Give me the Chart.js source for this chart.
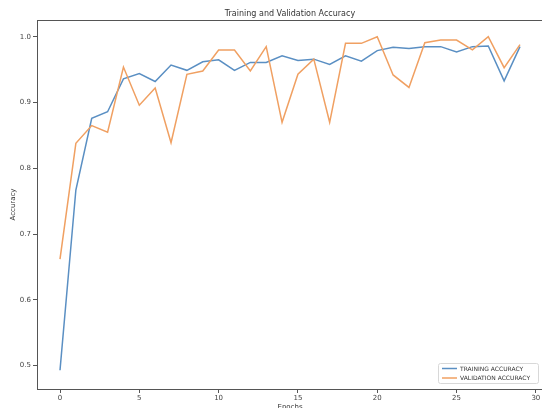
<!DOCTYPE html>
<html><head><meta charset="utf-8">
<script src="https://cdn.jsdelivr.net/npm/chart.js@4.4.1/dist/chart.umd.min.js"></script>
<style>html,body{margin:0;padding:0;overflow:hidden;background:#fff;width:542px;height:408px}canvas{display:block}</style>
</head><body><canvas id="c" width="560" height="411"></canvas>
<script>
const epochs = [0,1,2,3,4,5,6,7,8,9,10,11,12,13,14,15,16,17,18,19,20,21,22,23,24,25,26,27,28,29];
const trainingAccuracy = [0.493,0.767,0.876,0.886,0.936,0.944,0.932,0.957,0.949,0.962,0.965,0.949,0.961,0.961,0.971,0.964,0.966,0.958,0.971,0.963,0.979,0.984,0.982,0.985,0.985,0.977,0.985,0.986,0.933,0.985];
const validationAccuracy = [0.662,0.838,0.865,0.855,0.954,0.896,0.922,0.839,0.943,0.948,0.980,0.980,0.948,0.985,0.870,0.943,0.966,0.870,0.990,0.990,1.000,0.942,0.923,0.991,0.995,0.995,0.980,1.000,0.953,0.988];
const xTicks = [0,5,10,15,20,25,30];
const xTickLabels = ['0','5','10','15','20','25','30'];
const yTicks = [0.5,0.6,0.7,0.8,0.9,1.0];
const yTickLabels = ['0.5','0.6','0.7','0.8','0.9','1.0'];
const seriesNames = ['TRAINING ACCURACY','VALIDATION ACCURACY'];
const chartTitle = 'Training and Validation Accuracy';
const xTitle = 'Epochs';
const yTitle = 'Accuracy';

const BLUE = '#5a8fc3', ORANGE = '#f0a062';
const FONT = 'DejaVu Sans';

const spines = {
  id: 'spines',
  afterDatasetsDraw(chart) {
    const {ctx, chartArea: a} = chart;
    ctx.save();
    ctx.strokeStyle = '#555';
    ctx.lineWidth = 1;
    ctx.strokeRect(Math.round(a.left) + 0.5, Math.round(a.top) + 0.5, Math.round(a.right - a.left), Math.round(a.bottom - a.top));
    ctx.restore();
  }
};

const boxLegend = {
  id: 'boxLegend',
  afterDraw(chart) {
    const {ctx, chartArea: a} = chart;
    const right = a.right - 5, bottom = a.bottom - 6;
    const w = 100, h = 20;
    const left = right - w, top = bottom - h;
    ctx.save();
    ctx.fillStyle = 'rgba(255,255,255,0.85)';
    ctx.strokeStyle = '#d8d8d8';
    ctx.lineWidth = 1;
    ctx.beginPath();
    ctx.roundRect(left + 0.5, top + 0.5, w, h, 2);
    ctx.fill();
    ctx.stroke();
    ctx.font = '6px "' + FONT + '"';
    ctx.textBaseline = 'middle';
    chart.data.datasets.forEach((ds, i) => {
      const y = top + 5.5 + i * 9.5;
      ctx.strokeStyle = ds.borderColor;
      ctx.lineWidth = 1.5;
      ctx.beginPath();
      ctx.moveTo(left + 4, y);
      ctx.lineTo(left + 19, y);
      ctx.stroke();
      ctx.fillStyle = '#333';
      ctx.fillText(ds.label, left + 22, y + 0.5);
    });
    ctx.restore();
  }
};

new Chart(document.getElementById('c'), {
  type: 'line',
  data: {
    datasets: [
      { label: seriesNames[0], data: epochs.map((e, i) => ({x: e, y: trainingAccuracy[i]})), borderColor: BLUE, backgroundColor: BLUE, borderWidth: 1.5, pointRadius: 0, tension: 0, order: 1 },
      { label: seriesNames[1], data: epochs.map((e, i) => ({x: e, y: validationAccuracy[i]})), borderColor: ORANGE, backgroundColor: ORANGE, borderWidth: 1.5, pointRadius: 0, tension: 0, order: 0 }
    ]
  },
  options: {
    responsive: false,
    animation: false,
    devicePixelRatio: 1,
    layout: { padding: { left: 0, right: 17, top: 0, bottom: 0 } },
    plugins: {
      legend: { display: false },
      tooltip: { enabled: false },
      title: { display: true, fullSize: false, text: chartTitle, color: '#333', font: { family: FONT, size: 8, weight: 'normal', lineHeight: 1 }, padding: { top: 9.5, bottom: 2.5 } }
    },
    scales: {
      x: {
        type: 'linear', min: -1.45, max: 30.45,
        afterBuildTicks: s => { s.ticks = xTicks.map(v => ({value: v})); },
        afterFit: s => { s.height = 22; },
        ticks: { autoSkip: false, maxRotation: 0, padding: 1, color: '#444', font: { family: FONT, size: 7 }, callback: (v, i) => xTickLabels[i] },
        grid: { drawOnChartArea: false, tickLength: 4, color: '#555' },
        border: { display: false },
        title: { display: true, text: xTitle, color: '#333', font: { family: FONT, size: 7 }, padding: { top: 1, bottom: 0 } }
      },
      y: {
        type: 'linear', min: 0.4645, max: 1.0255,
        afterBuildTicks: s => { s.ticks = yTicks.map(v => ({value: v})); },
        afterFit: s => { s.width = 37; },
        ticks: { autoSkip: false, padding: 2, color: '#444', font: { family: FONT, size: 7 }, callback: (v, i) => yTickLabels[i] },
        grid: { drawOnChartArea: false, tickLength: 4, color: '#555' },
        border: { display: false },
        title: { display: true, text: yTitle, color: '#333', font: { family: FONT, size: 7 }, padding: { top: 9, bottom: 0 } }
      }
    }
  },
  plugins: [spines, boxLegend]
});
</script>
</body></html>
